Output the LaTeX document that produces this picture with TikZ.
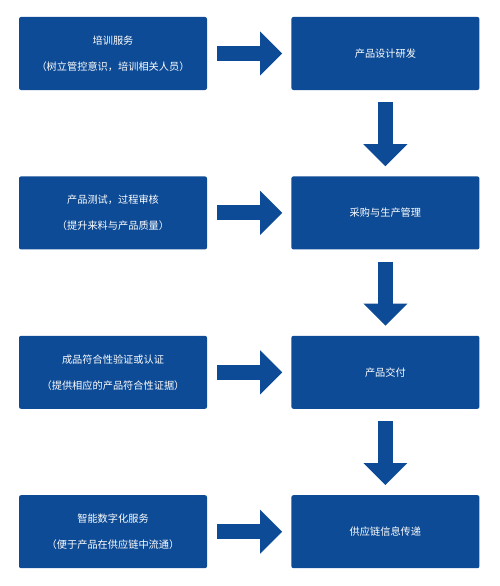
\documentclass[tikz,border=0pt]{standalone}
\usepackage{fontspec}
\newfontfamily\cjk{Noto Sans CJK SC}
\usetikzlibrary{positioning,arrows.meta}
\definecolor{flowblue}{RGB}{13,75,150}

\begin{document}
\begin{tikzpicture}[x=1pt,y=1pt,
    box/.style={fill=flowblue,text=white,rounded corners=2pt,inner sep=0pt,
        minimum width=188pt,minimum height=73pt,align=center,
        font=\cjk\fontsize{10.2}{26}\selectfont},
    flow/.style={draw=flowblue,line width=15pt,
        -{Triangle[length=22pt,width=44pt,line width=0pt]}},
    hflow/.style={flow,shorten <=10pt,shorten >=9pt},
    vflow/.style={flow,shorten <=12pt,shorten >=10pt}]
    \useasboundingbox (0,0) rectangle (500,-586);
    \node[box] (train) at (113,-53.5) {培训服务\\（树立管控意识，培训相关人员）};
    \node[box] (design) [right=84pt of train] {产品设计研发};
    \node[box] (make) [below=86pt of design] {采购与生产管理};
    \node[box] (test) [left=84pt of make] {产品测试，过程审核\\（提升来料与产品质量）};
    \node[box] (deliver) [below=86pt of make] {产品交付};
    \node[box] (verify) [left=84pt of deliver] {成品符合性验证或认证\\（提供相应的产品符合性证据）};
    \node[box] (info) [below=86pt of deliver] {供应链信息传递};
    \node[box] (digital) [left=84pt of info] {智能数字化服务\\（便于产品在供应链中流通）};
    \foreach \a/\b in {train/design,test/make,verify/deliver,digital/info}
        \draw[hflow] (\a) -- (\b);
    \foreach \a/\b in {design/make,make/deliver,deliver/info}
        \draw[vflow] (\a) -- (\b);
\end{tikzpicture}
\end{document}
